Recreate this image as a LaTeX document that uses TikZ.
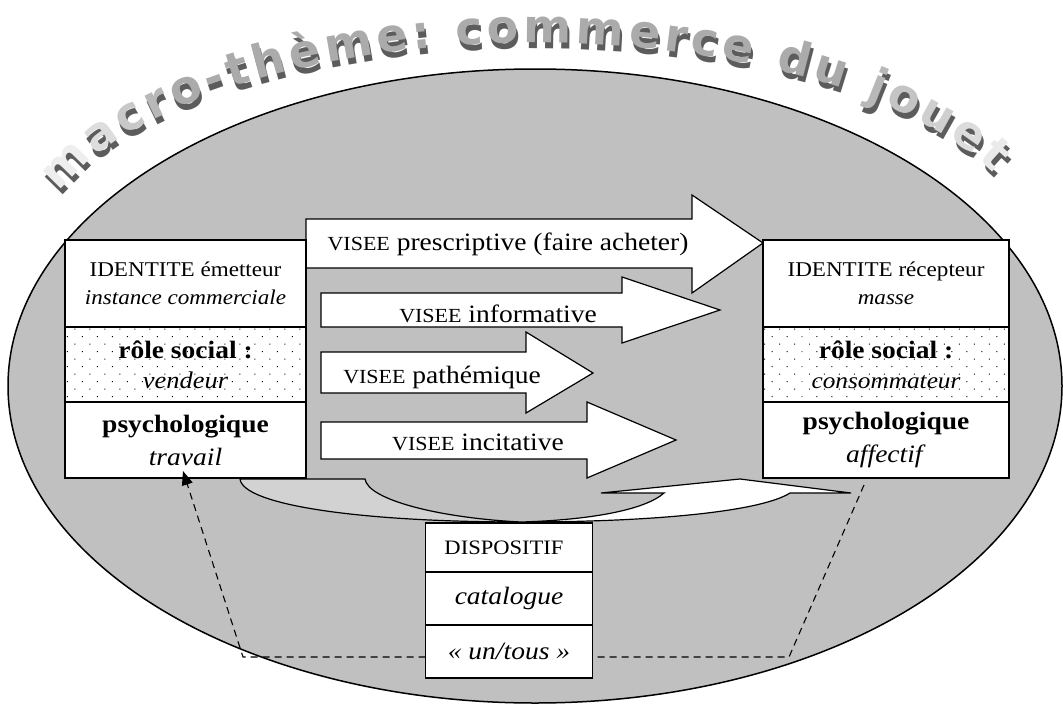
\documentclass[tikz,border=0pt]{standalone}
\usepackage{fontspec}
\setmainfont{Liberation Serif}[FakeStretch=1.1]
\newfontfamily\titlefam{DejaVu Sans}
\usetikzlibrary{positioning,arrows.meta,patterns.meta,decorations.text}

\definecolor{ovalgray}{HTML}{C0C0C0}
\definecolor{backgray}{HTML}{D2D2D2}
\definecolor{titledark}{HTML}{5C5C5C}

\newcommand{\titlefont}{\titlefam\bfseries\fontsize{46}{46}\selectfont}
\newcommand{\tf}[1]{\titlefont\color[HTML]{#1}}
\newcommand{\visee}[1]{{\fontsize{20}{24}\selectfont VISEE} #1}

\begin{document}
\begin{tikzpicture}[x=1pt,y=-1pt,
        sect/.style={draw,line width=1.2pt,fill=white,inner sep=0pt,outer sep=0pt,
            align=center,minimum width=241pt,font=\fontsize{21}{28}\selectfont},
        dotsect/.style={sect,preaction={fill=white},
            pattern={Dots[distance=10.6pt,angle=45,radius=0.7pt]}},
        rsect/.style={sect,minimum width=246pt},
        dsect/.style={sect,minimum width=167pt,font=\fontsize{25}{30}\selectfont},
        visarrow/.style={draw,line width=1.2pt,fill=white},
        arrowtext/.style={anchor=base,inner sep=0pt,font=\fontsize{25}{30}\selectfont},
        dashline/.style={line width=1.1pt,dash pattern=on 7pt off 5pt},
        titlearc/.style={decorate,decoration={text along path,text align=fit to path,text={#1}}}]
    \useasboundingbox (0,0) rectangle (1063,704);
    \draw[line width=1.5pt,fill=ovalgray] (535,386) ellipse [x radius=527,y radius=317];

    \path[titlearc={|\tf{5C5C5C}|macro-thème: commerce du jouet},xshift=2pt,yshift=-6pt]
        (59.5,192.9) arc[start angle=198,end angle=336.5,x radius=500,y radius=217];
    \path[titlearc={|\tf{EEEEEE}|m|\tf{DDDDDD}|a|\tf{C8C8C8}|c|\tf{B8B8B8}|r|\tf{ABABAB}|o-thème: commerce du |\tf{B8B8B8}|j|\tf{C4C4C4}|o|\tf{CFCFCF}|u|\tf{DCDCDC}|e|\tf{EAEAEA}|t}]
        (59.5,192.9) arc[start angle=198,end angle=336.5,x radius=500,y radius=217];

    \draw[visarrow] (306,219) -- (692,219) -- (692,195) -- (763,243) -- (692,293)
        -- (692,268) -- (306,268) -- cycle;
    \draw[visarrow] (321,293) -- (622,293) -- (622,277) -- (720,310) -- (622,343)
        -- (622,327) -- (321,327) -- cycle;
    \draw[visarrow] (321,352) -- (526,352) -- (526,332) -- (593,373) -- (526,413)
        -- (526,393) -- (321,393) -- cycle;
    \draw[visarrow] (321,422) -- (587,422) -- (587,402) -- (676,440) -- (587,478)
        -- (587,459) -- (321,459) -- cycle;
    \node[arrowtext] (vPres) at (508,250) {\visee{prescriptive (faire acheter)}};
    \node[arrowtext] (vInfo) at (498,322) {\visee{informative}};
    \node[arrowtext] (vPath) at (442,383) {\visee{pathémique}};
    \node[arrowtext] (vInci) at (478,450) {\visee{incitative}};

    \node[sect,minimum height=87pt] (emId) at (185.5,283.5)
        {IDENTITE émetteur\\\textit{instance commerciale}};
    \node[dotsect,minimum height=75pt,below=0pt of emId,font=\fontsize{25}{30}\selectfont] (emRole)
        {\textbf{rôle social :}\\{\fontsize{24}{30}\selectfont\itshape vendeur}};
    \node[sect,minimum height=76pt,below=0pt of emRole,font=\fontsize{25}{33}\selectfont] (emPsy)
        {\textbf{psychologique}\\\textit{travail}};

    \node[rsect,minimum height=87pt] (reId) at (886,283.5)
        {IDENTITE récepteur\\\textit{masse}};
    \node[dotsect,minimum width=246pt,minimum height=75pt,below=0pt of reId,
        font=\fontsize{25}{30}\selectfont] (reRole)
        {\textbf{rôle social :}\\{\fontsize{23}{30}\selectfont\itshape consommateur}};
    \node[rsect,minimum height=76pt,below=0pt of reRole,font=\fontsize{25}{33}\selectfont] (rePsy)
        {\textbf{psychologique}\\\textit{affectif}};

    \draw[line width=1.2pt,fill=backgray] (240,479) -- (365,479)
        .. controls (368,500) and (440,518) .. (521,522)
        .. controls (360,522) and (243,505) .. (240,479) -- cycle;
    \draw[line width=1.2pt,fill=white] (521,522)
        .. controls (650,522) and (760,512) .. (790,493) -- (851,493) -- (740,479)
        -- (601,493) -- (664,493) .. controls (645,510) and (590,520) .. (521,522) -- cycle;

    \node[dsect,minimum height=49pt,font=\fontsize{20.5}{24}\selectfont] (dispo) at (509,547.5)
        {DISPOSITIF\hspace*{10pt}};
    \node[dsect,minimum height=53pt,below=0pt of dispo] (cata) {\textit{catalogue}};
    \node[dsect,minimum height=53pt,below=0pt of cata] (untous) {\textit{« un/tous »}};

    \coordinate (recvfoot) at (864,485);
    \coordinate (rbend) at (789,657);
    \coordinate (lbend) at (243,657);
    \coordinate (emfoot) at (183,471);
    \draw[dashline] (recvfoot) -- (rbend) -- (untous.east |- rbend);
    \draw[dashline,-{Triangle[length=14pt,width=11pt]}] (untous.west |- lbend) -- (lbend) -- (emfoot);
\end{tikzpicture}
\end{document}
